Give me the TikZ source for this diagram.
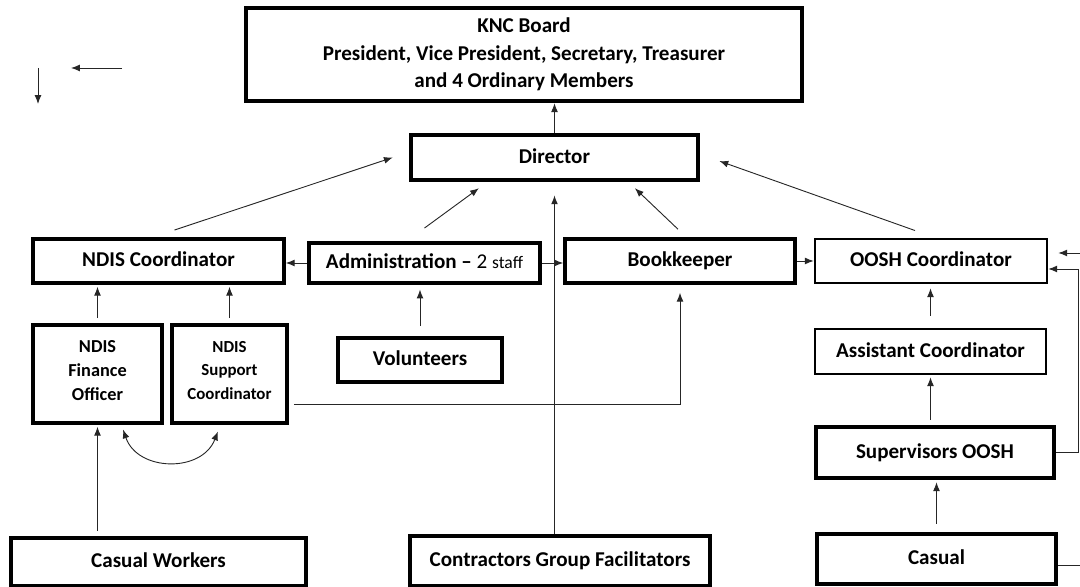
\documentclass[tikz,border=0pt]{standalone}
\usepackage{fontspec}
\setmainfont{Carlito}
\usepackage{tikz}
\usetikzlibrary{arrows.meta, positioning, calc}

\begin{document}
\begin{tikzpicture}[
  boardbox/.style={draw, rectangle, line width=3.2pt, font=\fontsize{15}{19.5}\selectfont\bfseries, align=center},
  orgbox/.style={draw, rectangle, font=\fontsize{15}{20}\selectfont\bfseries, align=center, inner sep=2pt, execute at begin node=\strut},
  heavybox/.style={orgbox, line width=3.2pt},
  midbox/.style={orgbox, line width=2.5pt},
  lightbox/.style={orgbox, line width=1.8pt},
  reports/.style={-{Latex[length=2.2mm,width=1.7mm]}, line width=0.65pt, black!85},
  mutual/.style={{Latex[length=2.2mm,width=1.7mm]}-{Latex[length=2.2mm,width=1.7mm]}, line width=0.65pt, black!85}
]
  \useasboundingbox (0,0) rectangle (27,14.675);
  \clip (0,0) rectangle (27,14.675);
  % Board and director
  \node[boardbox, minimum width=13.9cm, minimum height=2.325cm] (board) at (13.1,13.3125)
    {KNC Board\\President, Vice President, Secretary, Treasurer\\and 4 Ordinary Members};
  \node[heavybox, minimum width=7.175cm, minimum height=1.125cm] (director) at (13.8625,10.7375) {Director};
  % Second row
  \node[midbox, minimum width=6.275cm, minimum height=1.1cm] (ndiscoord) at (3.9625,8.15) {NDIS Coordinator};
  \node[midbox, minimum width=5.775cm, minimum height=1cm] (admin) at (10.6125,8.1)
    {Administration -- {\mdseries 2 \fontsize{12.5}{15}\selectfont staff}};
  \node[midbox, minimum width=5.75cm, minimum height=1.1cm] (bookkeeper) at (17,8.15) {Bookkeeper};
  \node[lightbox, minimum width=5.8cm, minimum height=1.1cm] (oosh) at (23.275,8.15) {OOSH Coordinator};
  % NDIS team
  \node[midbox, minimum width=3.225cm, minimum height=2.45cm, font=\fontsize{13}{17}\selectfont\bfseries] (finance) at (2.4375,5.325) {NDIS\\Finance\\Officer};
  \node[midbox, minimum width=2.875cm, minimum height=2.45cm, font=\fontsize{12}{17}\selectfont\bfseries] (support) at (5.7375,5.325) {NDIS\\Support\\Coordinator};
  \node[midbox, minimum width=4.1cm, minimum height=1.1cm] (volunteers) at (10.5,5.675) {Volunteers};
  % OOSH team
  \node[lightbox, minimum width=5.775cm, minimum height=1.125cm] (assistant) at (23.2625,5.8875) {Assistant Coordinator};
  \node[heavybox, minimum width=5.95cm, minimum height=1.275cm] (supervisors) at (23.375,3.3625) {Supervisors OOSH};
  \node[heavybox, minimum width=5.975cm, minimum height=1.25cm] (casual) at (23.4125,0.7) {Casual};
  % Bottom row
  \node[heavybox, minimum width=7.375cm, minimum height=1.2cm] (cworkers) at (3.9625,0.625) {Casual Workers};
  \node[heavybox, minimum width=7.5cm, minimum height=1.25cm] (contractors) at (14,0.65) {Contractors Group Facilitators};

  % loose arrows top left
  \coordinate (downtop) at (0.95,12.975);
  \coordinate (downend) at (0.95,12.075);
  \coordinate (lefttop) at (3.05,12.975);
  \coordinate (leftend) at (1.775,12.975);
  \draw[reports] (downtop) -- (downend);
  \draw[reports] (lefttop) -- (leftend);

  % reporting lines
  \draw[reports] (director.north) -- (director.north |- board.south);
  \draw[reports] ([shift={(0.4,0.18)}]ndiscoord.north) -- ([xshift=-0.4cm]director.west);
  \draw[reports] ([yshift=0.33cm]admin.north) -- ([shift={(-1.89,-0.15)}]director.south);
  \draw[reports] (contractors.north -| director.south) -- ([yshift=-0.33cm]director.south);
  \draw[reports] ([shift={(-0.05,0.2)}]bookkeeper.north) -- ([shift={(2.01,-0.15)}]director.south);
  \draw[reports] ([shift={(-0.4,0.18)}]oosh.north) -- ([shift={(0.48,-0.09)}]director.east);
  \draw[reports] (admin.west) -- (admin.west -| ndiscoord.east);
  \draw[reports] (admin.east) -- (admin.east -| bookkeeper.west);
  \draw[reports] (bookkeeper.east) -- (oosh.west);
  \draw[reports] ([yshift=0.25cm]volunteers.north) -- ([yshift=-0.12cm]volunteers.north |- admin.south);
  \draw[reports] ([yshift=0.13cm]finance.north) -- ([yshift=-0.05cm]finance.north |- ndiscoord.south);
  \draw[reports] ([yshift=0.13cm]support.north) -- ([yshift=-0.05cm]support.north |- ndiscoord.south);
  \draw[reports] ([yshift=0.12cm]cworkers.north -| finance.south) -- ([yshift=-0.05cm]finance.south);
  \draw[mutual] ([shift={(0.64,-0.12)}]finance.south) to[bend right=70, looseness=1.2] ([shift={(-0.29,-0.17)}]support.south);
  \draw[reports] ([shift={(0.13,-0.75)}]support.east) -| ([yshift=-0.2cm]bookkeeper.south);
  \draw[reports] ([yshift=0.3cm]assistant.north) -- ([yshift=-0.1cm]assistant.north |- oosh.south);
  \draw[reports] ([yshift=0.12cm]supervisors.north -| assistant.south) -- ([yshift=-0.05cm]assistant.south);
  \draw[reports] ([yshift=0.2cm]casual.north) -- ([yshift=-0.05cm]casual.north |- supervisors.south);
  \draw[reports] (supervisors.east) -- ++(0.55,0) |- ([yshift=-0.2cm]oosh.east);
  \draw[reports] ([yshift=-0.15cm]casual.east) -- ++(1.2,0) |- ([shift={(0.25,0.2)}]oosh.east);
\end{tikzpicture}
\end{document}
